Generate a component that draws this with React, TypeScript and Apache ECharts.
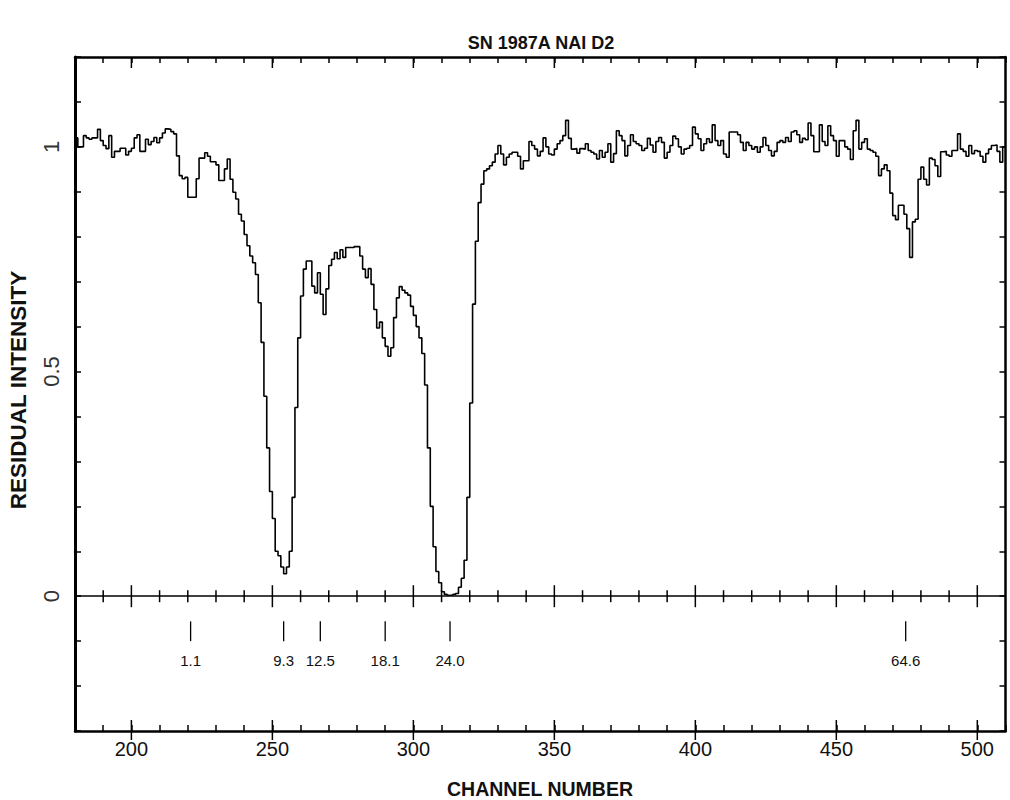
import React, { useEffect, useRef } from "react";
import * as echarts from "echarts";

// ---------------- data ----------------
const FIRST_CHANNEL = 180;
// residual intensity per channel, channels 180..509
const residual: number[] = [
  1.02, 1.0, 1.0, 1.025, 1.02, 1.017, 1.02, 1.02, 1.039, 1.014, // 180-189
  1.003, 0.996, 1.025, 0.977, 0.99, 0.99, 0.997, 0.997, 0.982, 0.99, // 190-199
  0.997, 1.02, 1.027, 0.99, 0.99, 1.017, 1.005, 1.012, 1.021, 1.009, // 200-209
  1.02, 1.031, 1.04, 1.039, 1.034, 1.029, 0.98, 0.936, 0.929, 0.932, // 210-219
  0.888, 0.888, 0.888, 0.929, 0.975, 0.975, 0.987, 0.979, 0.967, 0.967, // 220-229
  0.96, 0.925, 0.925, 0.951, 0.973, 0.928, 0.899, 0.884, 0.85, 0.835, // 230-239
  0.805, 0.78, 0.757, 0.742, 0.716, 0.653, 0.565, 0.445, 0.33, 0.233, // 240-249
  0.173, 0.1, 0.09, 0.065, 0.05, 0.065, 0.1, 0.22, 0.42, 0.575, // 250-259
  0.668, 0.728, 0.746, 0.746, 0.69, 0.675, 0.72, 0.672, 0.627, 0.684, // 260-269
  0.736, 0.75, 0.765, 0.751, 0.771, 0.754, 0.776, 0.776, 0.776, 0.778, // 270-279
  0.778, 0.757, 0.728, 0.709, 0.729, 0.694, 0.638, 0.597, 0.61, 0.575, // 280-289
  0.556, 0.534, 0.553, 0.62, 0.664, 0.689, 0.681, 0.675, 0.67, 0.645, // 290-299
  0.625, 0.6, 0.575, 0.54, 0.47, 0.33, 0.2, 0.11, 0.055, 0.03, // 300-309
  0.01, 0.004, 0.002, 0.002, 0.004, 0.006, 0.02, 0.04, 0.08, 0.22, // 310-319
  0.43, 0.65, 0.79, 0.876, 0.917, 0.947, 0.951, 0.958, 0.966, 0.984, // 320-329
  1.003, 0.984, 0.96, 0.977, 0.984, 0.988, 0.988, 0.979, 0.951, 0.969, // 330-339
  0.969, 1.012, 1.003, 0.995, 0.98, 0.99, 1.02, 1.0, 0.984, 0.982, // 340-349
  0.995, 1.007, 1.014, 1.025, 1.059, 1.019, 0.995, 0.996, 0.986, 0.996, // 350-359
  0.995, 1.007, 0.992, 0.988, 0.984, 0.973, 0.992, 0.977, 0.988, 1.007, // 360-369
  0.966, 0.985, 1.036, 1.025, 1.014, 0.98, 1.003, 1.027, 1.012, 1.007, // 370-379
  1.003, 0.992, 0.997, 1.019, 1.004, 0.988, 1.012, 1.021, 1.01, 0.975, // 380-389
  0.988, 1.003, 1.024, 1.018, 1.0, 0.984, 0.995, 0.997, 1.003, 1.044, // 390-399
  1.029, 1.018, 0.992, 1.007, 1.018, 1.01, 1.049, 1.014, 1.003, 1.014, // 400-409
  0.984, 0.977, 1.033, 1.033, 1.033, 1.027, 1.01, 0.992, 1.01, 1.003, // 410-419
  0.995, 1.0, 0.988, 1.0, 1.021, 1.003, 0.992, 0.98, 0.99, 1.01, // 420-429
  1.014, 1.01, 1.021, 1.012, 1.033, 1.036, 1.027, 1.01, 1.019, 1.016, // 430-439
  1.053, 1.025, 0.989, 0.989, 1.049, 1.012, 1.003, 1.047, 1.025, 1.014, // 440-449
  0.979, 1.014, 1.014, 1.0, 0.995, 0.972, 1.036, 1.059, 0.995, 1.01, // 450-459
  1.018, 0.995, 0.992, 0.988, 0.979, 0.936, 0.951, 0.96, 0.947, 0.897, // 460-469
  0.847, 0.838, 0.87, 0.87, 0.85, 0.818, 0.754, 0.833, 0.839, 0.928, // 470-479
  0.955, 0.928, 0.915, 0.975, 0.972, 0.958, 0.934, 0.989, 0.99, 0.982, // 480-489
  0.979, 0.992, 0.992, 1.029, 0.995, 0.99, 0.979, 1.003, 0.985, 0.992, // 490-499
  0.99, 0.979, 0.966, 0.985, 0.995, 1.003, 1.004, 0.99, 0.966, 1.0, // 500-509
];

const xLabelValues = [200, 250, 300, 350, 400, 450, 500];
const xMajorTicks = [200, 250, 300, 350, 400, 450, 500];
const xMinorTicks = [
  190, 200, 210, 220, 230, 240, 250, 260, 270, 280, 290, 300, 310, 320, 330,
  340, 350, 360, 370, 380, 390, 400, 410, 420, 430, 440, 450, 460, 470, 480,
  490, 500,
];
const yLabelValues = [0, 0.5, 1];

const componentChannels = [221, 254, 267, 290, 313, 474.6];
const componentLabels = ["1.1", "9.3", "12.5", "18.1", "24.0", "64.6"];

const TITLE = "SN 1987A NAI D2";
const X_NAME = "CHANNEL NUMBER";
const Y_NAME = "RESIDUAL INTENSITY";

// ---------------- chart ----------------
const X_MIN = 180;
const X_MAX = 510;
const Y_MIN = -0.3;
const Y_MAX = 1.2;
const FONT = "'Liberation Sans', Arial, Helvetica, sans-serif";
const INK = "#111";

export default function App() {
  const ref = useRef<HTMLDivElement>(null);

  useEffect(() => {
    if (!ref.current) return;
    const chart = echarts.init(ref.current, undefined, { renderer: "svg" });

    const spectrum: number[][] = residual.map((v, i) => [FIRST_CHANNEL + i, v]);
    spectrum.push([FIRST_CHANNEL + residual.length, residual[residual.length - 1]]);

    const tickStyle = { stroke: "#000", lineWidth: 1.5 };

    const option: any = {
      animation: false,
      backgroundColor: "#fff",
      grid: { left: 75, right: 4.5, top: 57, bottom: 69, containLabel: false },
      graphic: [
        {
          type: "text",
          x: 541,
          y: 43,
          style: {
            text: TITLE,
            fontSize: 18,
            fontWeight: "bold",
            fontFamily: FONT,
            fill: INK,
            align: "center",
            verticalAlign: "middle",
          },
        },
        {
          type: "text",
          x: 540,
          y: 789,
          style: {
            text: X_NAME,
            fontSize: 19.5,
            fontWeight: "bold",
            fontFamily: FONT,
            fill: INK,
            align: "center",
            verticalAlign: "middle",
          },
        },
        {
          type: "text",
          x: 18,
          y: 390,
          rotation: Math.PI / 2,
          style: {
            text: Y_NAME,
            fontSize: 22.5,
            fontWeight: "bold",
            fontFamily: FONT,
            fill: INK,
            align: "center",
            verticalAlign: "middle",
          },
        },
      ],
      xAxis: [
        {
          type: "value",
          position: "bottom",
          min: X_MIN,
          max: X_MAX,
          interval: 10,
          axisLine: { onZero: false, lineStyle: { color: "#000", width: 2.5 } },
          axisTick: { inside: true, length: 6, lineStyle: { color: "#000", width: 1.5 } },
          axisLabel: {
            margin: 8,
            fontSize: 20,
            fontFamily: FONT,
            color: INK,
            formatter: (v: number) => (xLabelValues.includes(Math.round(v)) ? String(Math.round(v)) : ""),
          },
          splitLine: { show: false },
        },
        {
          type: "value",
          position: "top",
          min: X_MIN,
          max: X_MAX,
          interval: 10,
          axisLine: { onZero: false, lineStyle: { color: "#000", width: 2.5 } },
          axisTick: { inside: true, length: 6, lineStyle: { color: "#000", width: 1.5 } },
          axisLabel: { show: false },
          splitLine: { show: false },
        },
      ],
      yAxis: [
        {
          type: "value",
          position: "left",
          min: Y_MIN,
          max: Y_MAX,
          interval: 0.1,
          axisLine: { onZero: false, lineStyle: { color: "#000", width: 3 } },
          axisTick: { inside: true, length: 6, lineStyle: { color: "#000", width: 1.5 } },
          axisLabel: {
            margin: 13,
            rotate: 90,
            fontSize: 22,
            fontFamily: FONT,
            color: "#333",
            formatter: (v: number) => {
              const r = Math.round(v * 10) / 10;
              return yLabelValues.includes(r) ? String(r) : "";
            },
          },
          splitLine: { show: false },
        },
        {
          type: "value",
          position: "right",
          min: Y_MIN,
          max: Y_MAX,
          interval: 0.1,
          axisLine: { onZero: false, lineStyle: { color: "#000", width: 2.5 } },
          axisTick: { inside: true, length: 6, lineStyle: { color: "#000", width: 1.5 } },
          axisLabel: { show: false },
          splitLine: { show: false },
        },
      ],
      series: [
        {
          type: "line",
          name: "Na I D2",
          data: spectrum,
          step: "end",
          symbol: "none",
          xAxisIndex: 0,
          yAxisIndex: 0,
          lineStyle: { color: "#000", width: 1.6 },
          markLine: {
            silent: true,
            symbol: "none",
            label: { show: false },
            lineStyle: { color: "#000", width: 1.5, type: "solid" },
            data: [{ yAxis: 0 }],
          },
        },
        {
          type: "custom",
          name: "ticks",
          clip: false,
          silent: true,
          xAxisIndex: 0,
          yAxisIndex: 0,
          data: xMinorTicks.map((v) => [v, 0]),
          renderItem: (params: any, api: any) => {
            const v = api.value(0) as number;
            const major = xMajorTicks.includes(v);
            const z = api.coord([v, 0]);
            const b = api.coord([v, Y_MIN]);
            const t = api.coord([v, Y_MAX]);
            const L = major ? 11 : 6;
            const children: any[] = [
              { type: "line", shape: { x1: z[0], y1: z[1] - L, x2: z[0], y2: z[1] + L }, style: tickStyle },
            ];
            if (major) {
              children.push({ type: "line", shape: { x1: b[0], y1: b[1] - 11, x2: b[0], y2: b[1] + 9 }, style: tickStyle });
              children.push({ type: "line", shape: { x1: t[0], y1: t[1], x2: t[0], y2: t[1] + 11 }, style: tickStyle });
            }
            return { type: "group", children };
          },
        },
        {
          type: "custom",
          name: "components",
          clip: false,
          silent: true,
          xAxisIndex: 0,
          yAxisIndex: 0,
          data: componentChannels.map((c) => [c, 0]),
          renderItem: (params: any, api: any) => {
            const c = api.value(0) as number;
            const p1 = api.coord([c, -0.056]);
            const p2 = api.coord([c, -0.1]);
            const pl = api.coord([c, -0.143]);
            return {
              type: "group",
              children: [
                { type: "line", shape: { x1: p1[0], y1: p1[1], x2: p2[0], y2: p2[1] }, style: { stroke: "#000", lineWidth: 1.3 } },
                {
                  type: "text",
                  x: pl[0],
                  y: pl[1],
                  style: {
                    text: componentLabels[params.dataIndex],
                    fontSize: 15,
                    fontFamily: FONT,
                    fill: INK,
                    align: "center",
                    verticalAlign: "middle",
                  },
                },
              ],
            };
          },
        },
      ],
    };

    chart.setOption(option);
    return () => chart.dispose();
  }, []);

  return (
    <div
      ref={ref}
      style={{ position: "fixed", left: 0, top: 0, width: 1010, height: 800, background: "#fff" }}
    />
  );
}
